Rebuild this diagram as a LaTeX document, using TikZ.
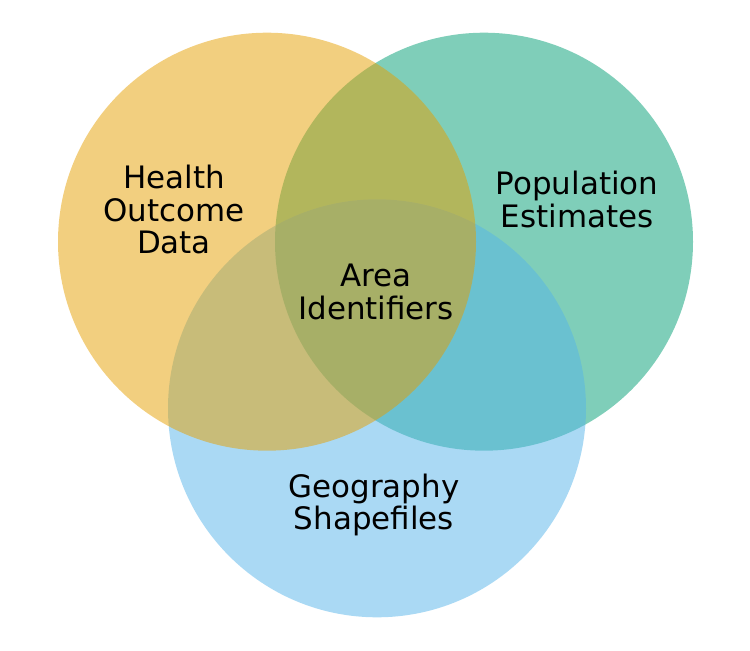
\documentclass[tikz,border=0pt]{standalone}
\usepackage{fontspec}
\setmainfont{DejaVu Sans}
\definecolor{okorange}{HTML}{E69F00}
\definecolor{okgreen}{HTML}{009E73}
\definecolor{okblue}{HTML}{56B4E9}
\tikzset{
  halmaz/.style={fill opacity=0.5},
  szoveg/.style={align=center,inner sep=0pt,font=\fontsize{17.6}{18.7}\selectfont},
}
\begin{document}
\begin{tikzpicture}[x=0.02cm,y=0.02cm]
  \useasboundingbox (0,0) rectangle (750,650);
  % halmazok
  \fill[halmaz,okgreen] (484,408.3) circle (209);
  \fill[halmaz,okblue] (377,241.7) circle (209);
  \fill[halmaz,okorange] (267,408.3) circle (209);
  % feliratok
  \node[szoveg] (health) at (174,440.5) {Health\\Outcome\\Data};
  \node[szoveg] (pop) at (577,450.5) {Population\\Estimates};
  \node[szoveg] (area) at (376,358) {Area\\Identifiers};
  \node[szoveg] (geo) at (374,145) {Geography\\Shapefiles};
\end{tikzpicture}
\end{document}
